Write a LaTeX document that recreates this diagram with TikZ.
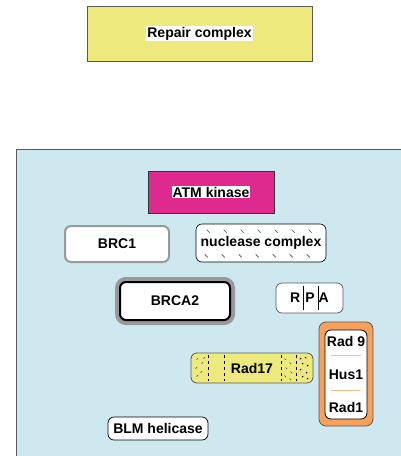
\documentclass[tikz,border=0pt]{standalone}
\usepackage{fontspec}
\setmainfont{Liberation Sans}
\usetikzlibrary{positioning, calc}
\definecolor{repairColor}{RGB}{238,233,124}
\definecolor{atmColor}{RGB}{222,42,142}
\definecolor{panelColor}{RGB}{205,233,239}
\definecolor{radColor}{RGB}{249,160,90}
\definecolor{sepColor}{RGB}{248,190,140}
\colorlet{drawColor}{black!65}
\tikzstyle{nameText}=[font=\fontsize{14}{16}\selectfont\bfseries]
\tikzstyle{plainbox}=[rectangle, draw=drawColor, nameText, inner sep=0pt]
\tikzstyle{roundbox}=[rectangle, rounded corners=6pt, draw=black, fill=white, nameText, inner sep=0pt]
\tikzstyle{tag}=[fill=white, inner sep=1pt, nameText]
\tikzstyle{hatch}=[black!70, line width=0.6pt]

\begin{document}
\begin{tikzpicture}[x=1pt, y=-1pt]
      \clip (0,0) rectangle (401,456);
      \node (repair) [plainbox, fill=repairColor, minimum width=225pt, minimum height=55pt] at (199.5,33.5) {};
      \node [tag] at (repair) {Repair complex};
      % cell panel
      \path [fill=panelColor, draw=drawColor, line width=1pt] (16,149) rectangle (430,480);
      \node (atm) [plainbox, fill=atmColor, draw=black!80, minimum width=126pt, minimum height=42pt] at (211,192) {};
      \node [tag] at (atm) {ATM kinase};
      \node (brc1) [roundbox, draw=black!40, line width=2pt, minimum width=104pt, minimum height=36pt] at (117,244) {BRC1};
      \node (nuclease) [roundbox, line width=0.6pt, minimum width=130pt, minimum height=38pt] at (261,243) {nuclease complex};
      \foreach \i in {0,...,6} {
        \draw [hatch] ($ (nuclease.north west) + (11+17*\i,6) $) -- ++(3,3);
        \draw [hatch] ($ (nuclease.south west) + (9+17*\i,-8) $) -- ++(3,3);
      }
      \node (brca2) [roundbox, line width=2pt, preaction={draw=black!40, line width=10pt}, minimum width=110pt, minimum height=38pt] at (175,301) {BRCA2};
      \node (rpa) [roundbox, draw=drawColor, line width=0.7pt, minimum width=67pt, minimum height=30pt] at (309.5,298) {R\hspace{5pt}P\hspace{4pt}A};
      \draw [line width=0.7pt] ($ (rpa.center) + (-6,-12) $) -- ++(0,24);
      \draw [line width=0.7pt] ($ (rpa.center) + (8.5,-12) $) -- ++(0,24);
      % Rad17 clamp loader
      \node (rad17) [roundbox, fill=repairColor, draw=drawColor, line width=0.8pt, minimum width=122pt, minimum height=30pt] at (252,368) {Rad17};
      \foreach \dx in {18,34,91,106}
        \draw [dashed, line width=0.9pt] ($ (rad17.north west) + (\dx,2) $) -- ++(0,26);
      \foreach \px/\py in {6/7,11/11,5/16,10/20,6/24,13/6}
        \draw [hatch, line width=0.5pt] ($ (rad17.north west) + (\px,\py) $) -- ++(1.5,-1.5);
      \foreach \px/\py in {94/6,99/10,95/15,100/19,94/23,99/26}
        \draw [hatch, line width=0.5pt] ($ (rad17.north west) + (\px,\py) $) -- ++(1.5,1.5);
      \foreach \px/\py in {110/6,115/5,112/11,117/13,110/17,116/20,112/24,117/26}
        \fill ($ (rad17.north west) + (\px,\py) $) circle (0.8pt);
      % 9-1-1 clamp
      \node (clamp) [rectangle, rounded corners=7pt, fill=radColor, draw=drawColor, line width=0.8pt, minimum width=54pt, minimum height=104pt] at (346,374) {};
      \node (clampInner) [roundbox, line width=0.8pt, minimum width=42pt, minimum height=89pt] at (346,374.5) {};
      \node (rad9) [nameText, below=3pt of clampInner.north] {Rad 9};
      \node (hus1) [nameText] at (clampInner.center) {Hus1};
      \node (rad1) [nameText, above=3pt of clampInner.south] {Rad1};
      \draw [sepColor, line width=1pt] ($ (clampInner.west) + (6,-19) $) -- ++(30,0);
      \draw [sepColor, line width=1pt] ($ (clampInner.west) + (6,16) $) -- ++(30,0);
      \node (blm) [roundbox, line width=0.7pt, minimum width=100pt, minimum height=23pt] at (158,428.5) {BLM helicase};
    \end{tikzpicture}
\end{document}
